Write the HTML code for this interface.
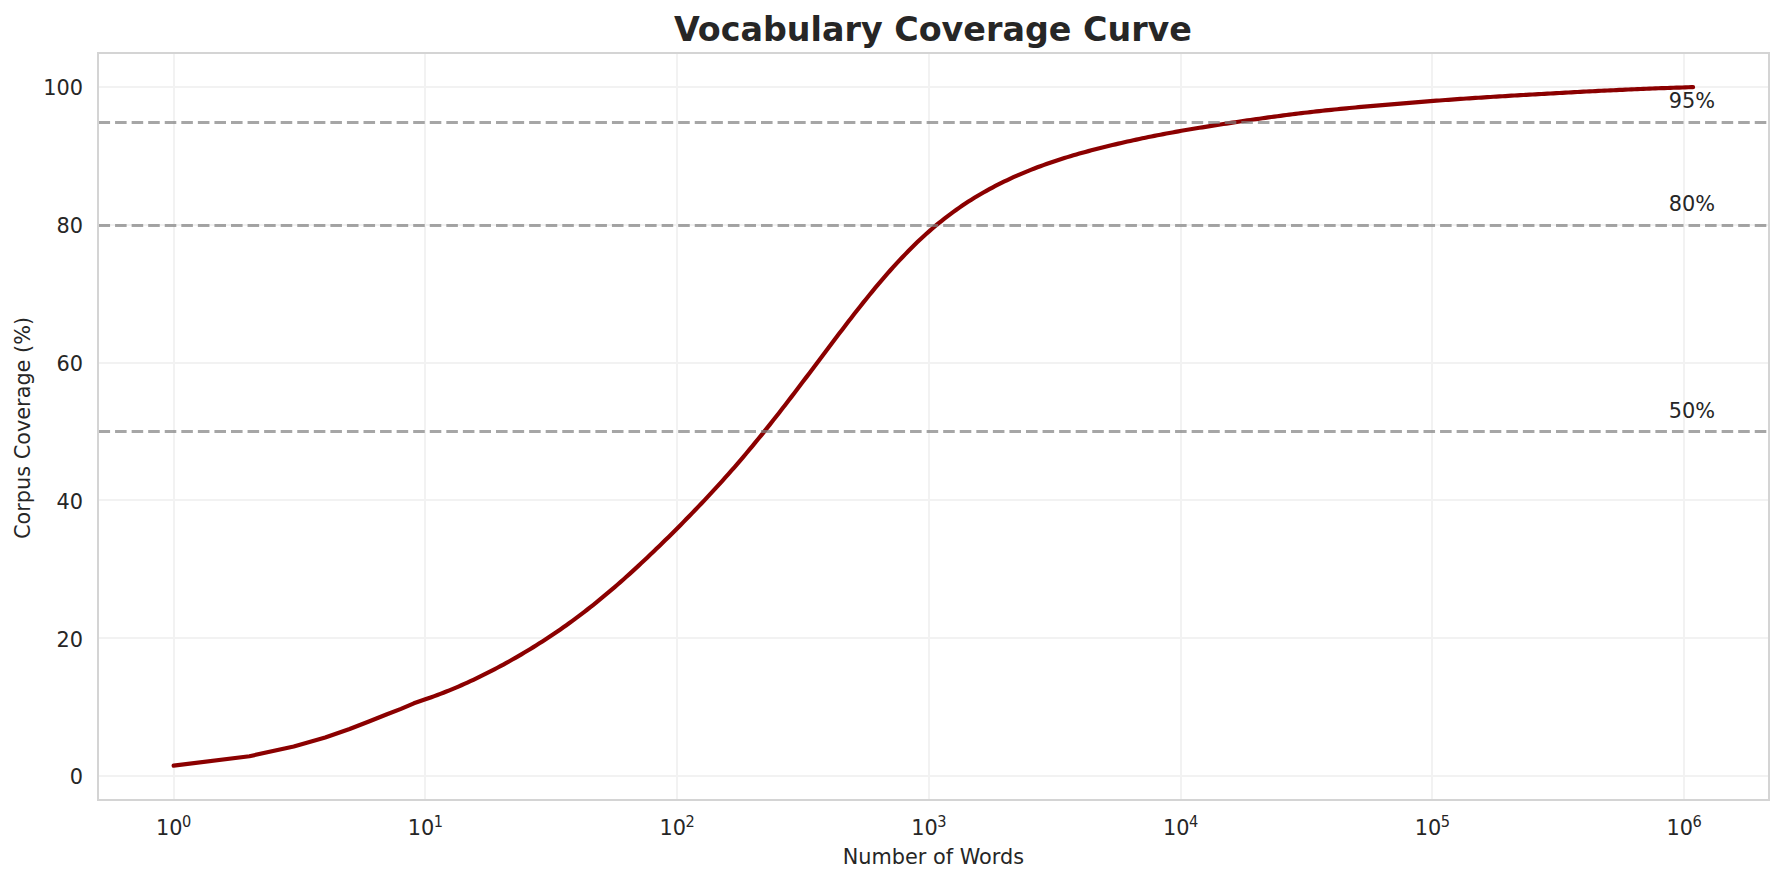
<!DOCTYPE html>
<html lang="en"><head><meta charset="utf-8"><title>Vocabulary Coverage Curve</title>
<style>html,body{margin:0;padding:0;background:#ffffff;}svg{display:block;}text{font-family:"DejaVu Sans","Liberation Sans",sans-serif;fill:#262626;}.t{font-size:20.83px;}.sup{font-size:14.58px;}.title{font-size:33.33px;font-weight:bold;}</style></head>
<body>
<!-- Vocabulary Coverage Curve: line chart, log-x axis (Number of Words) vs Corpus Coverage (%) -->
<svg width="1784" height="883" viewBox="0 0 1784 883">
<rect x="0" y="0" width="1784" height="883" fill="#ffffff"/>
<g stroke="#f2f2f2" stroke-width="2" shape-rendering="crispEdges" fill="none">
<line x1="174" y1="53" x2="174" y2="800"/>
<line x1="425" y1="53" x2="425" y2="800"/>
<line x1="677" y1="53" x2="677" y2="800"/>
<line x1="929" y1="53" x2="929" y2="800"/>
<line x1="1181" y1="53" x2="1181" y2="800"/>
<line x1="1432" y1="53" x2="1432" y2="800"/>
<line x1="1684" y1="53" x2="1684" y2="800"/>
<line x1="98" y1="776" x2="1769" y2="776"/>
<line x1="98" y1="638" x2="1769" y2="638"/>
<line x1="98" y1="500" x2="1769" y2="500"/>
<line x1="98" y1="363" x2="1769" y2="363"/>
<line x1="98" y1="225" x2="1769" y2="225"/>
<line x1="98" y1="87" x2="1769" y2="87"/>
</g>
<clipPath id="ax"><rect x="98" y="53" width="1671" height="747"/></clipPath>
<g clip-path="url(#ax)">
<polyline points="173.65,765.64 249.43,756.23 293.76,746.50 325.21,737.50 349.61,729.06 369.54,721.20 386.39,714.53 400.99,708.90 413.87,703.30 425.39,699.32 428.39,698.29 431.39,697.23 434.39,696.15 437.39,695.04 440.39,693.91 443.39,692.75 446.39,691.56 449.39,690.35 452.39,689.11 455.39,687.85 458.39,686.57 461.39,685.26 464.39,683.92 467.39,682.57 470.39,681.19 473.39,679.78 476.39,678.36 479.39,676.91 482.39,675.44 485.39,673.95 488.39,672.44 491.39,670.90 494.39,669.35 497.39,667.77 500.39,666.17 503.39,664.55 506.39,662.90 509.39,661.24 512.39,659.55 515.39,657.84 518.39,656.11 521.39,654.36 524.39,652.58 527.39,650.78 530.39,648.96 533.39,647.12 536.39,645.25 539.39,643.36 542.39,641.45 545.39,639.51 548.39,637.55 551.39,635.56 554.39,633.54 557.39,631.50 560.39,629.43 563.39,627.33 566.39,625.20 569.39,623.05 572.39,620.87 575.39,618.66 578.39,616.42 581.39,614.15 584.39,611.85 587.39,609.52 590.39,607.16 593.39,604.78 596.39,602.37 599.39,599.93 602.39,597.46 605.39,594.96 608.39,592.44 611.39,589.89 614.39,587.32 617.39,584.72 620.39,582.10 623.39,579.45 626.39,576.78 629.39,574.08 632.39,571.36 635.39,568.62 638.39,565.86 641.39,563.08 644.39,560.27 647.39,557.45 650.39,554.61 653.39,551.75 656.39,548.86 659.39,545.96 662.39,543.05 665.39,540.11 668.39,537.16 671.39,534.19 674.39,531.20 677.39,528.19 680.39,525.17 683.39,522.13 686.39,519.07 689.39,515.99 692.39,512.89 695.39,509.78 698.39,506.65 701.39,503.49 704.39,500.32 707.39,497.12 710.39,493.91 713.39,490.67 716.39,487.40 719.39,484.11 722.39,480.80 725.39,477.46 728.39,474.09 731.39,470.69 734.39,467.26 737.39,463.80 740.39,460.32 743.39,456.80 746.39,453.26 749.39,449.68 752.39,446.07 755.39,442.44 758.39,438.78 761.39,435.08 764.39,431.37 767.39,427.62 770.39,423.85 773.39,420.06 776.39,416.24 779.39,412.41 782.39,408.55 785.39,404.67 788.39,400.78 791.39,396.87 794.39,392.95 797.39,389.01 800.39,385.06 803.39,381.10 806.39,377.13 809.39,373.16 812.39,369.17 815.39,365.18 818.39,361.19 821.39,357.20 824.39,353.21 827.39,349.22 830.39,345.23 833.39,341.25 836.39,337.29 839.39,333.33 842.39,329.39 845.39,325.47 848.39,321.56 851.39,317.68 854.39,313.82 857.39,309.99 860.39,306.19 863.39,302.42 866.39,298.68 869.39,294.98 872.39,291.32 875.39,287.70 878.39,284.11 881.39,280.58 884.39,277.09 887.39,273.64 890.39,270.25 893.39,266.91 896.39,263.62 899.39,260.38 902.39,257.20 905.39,254.07 908.39,251.00 911.39,247.98 914.39,245.02 917.39,242.12 920.39,239.28 923.39,236.50 926.39,233.78 929.39,231.11 932.39,228.51 935.39,225.96 938.39,223.47 941.39,221.04 944.39,218.66 947.39,216.34 950.39,214.08 953.39,211.87 956.39,209.71 959.39,207.60 962.39,205.55 965.39,203.55 968.39,201.59 971.39,199.68 974.39,197.82 977.39,196.00 980.39,194.23 983.39,192.50 986.39,190.81 989.39,189.15 992.39,187.54 995.39,185.96 998.39,184.42 1001.39,182.92 1004.39,181.45 1007.39,180.01 1010.39,178.61 1013.39,177.23 1016.39,175.89 1019.39,174.58 1022.39,173.30 1025.39,172.05 1028.39,170.82 1031.39,169.62 1034.39,168.45 1037.39,167.30 1040.39,166.18 1043.39,165.09 1046.39,164.01 1049.39,162.97 1052.39,161.94 1055.39,160.93 1058.39,159.95 1061.39,158.99 1064.39,158.04 1067.39,157.12 1070.39,156.21 1073.39,155.32 1076.39,154.45 1079.39,153.60 1082.39,152.76 1085.39,151.93 1088.39,151.12 1091.39,150.32 1094.39,149.53 1097.39,148.76 1100.39,148.00 1103.39,147.25 1106.39,146.51 1109.39,145.78 1112.39,145.06 1115.39,144.35 1118.39,143.64 1121.39,142.95 1124.39,142.27 1127.39,141.59 1130.39,140.92 1133.39,140.26 1136.39,139.60 1139.39,138.96 1142.39,138.32 1145.39,137.70 1148.39,137.08 1151.39,136.46 1154.39,135.86 1157.39,135.27 1160.39,134.68 1163.39,134.11 1166.39,133.54 1169.39,132.98 1172.39,132.43 1175.39,131.89 1178.39,131.35 1181.39,130.82 1184.39,130.31 1187.39,129.79 1190.39,129.29 1193.39,128.79 1196.39,128.30 1199.39,127.81 1202.39,127.32 1205.39,126.84 1208.39,126.36 1211.39,125.89 1214.39,125.42 1217.39,124.95 1220.39,124.49 1223.39,124.03 1226.39,123.57 1229.39,123.11 1232.39,122.66 1235.39,122.20 1238.39,121.75 1241.39,121.31 1244.39,120.86 1247.39,120.42 1250.39,119.99 1253.39,119.55 1256.39,119.12 1259.39,118.69 1262.39,118.27 1265.39,117.85 1268.39,117.43 1271.39,117.02 1274.39,116.61 1277.39,116.21 1280.39,115.81 1283.39,115.42 1286.39,115.03 1289.39,114.65 1292.39,114.27 1295.39,113.89 1298.39,113.52 1301.39,113.16 1304.39,112.80 1307.39,112.45 1310.39,112.10 1313.39,111.76 1316.39,111.42 1319.39,111.09 1322.39,110.76 1325.39,110.44 1328.39,110.13 1331.39,109.81 1334.39,109.51 1337.39,109.20 1340.39,108.90 1343.39,108.61 1346.39,108.32 1349.39,108.03 1352.39,107.75 1355.39,107.47 1358.39,107.20 1361.39,106.92 1364.39,106.65 1367.39,106.39 1370.39,106.12 1373.39,105.86 1376.39,105.60 1379.39,105.34 1382.39,105.08 1385.39,104.83 1388.39,104.57 1391.39,104.32 1394.39,104.07 1397.39,103.82 1400.39,103.57 1403.39,103.32 1406.39,103.07 1409.39,102.83 1412.39,102.58 1415.39,102.34 1418.39,102.10 1421.39,101.86 1424.39,101.62 1427.39,101.39 1430.39,101.15 1433.39,100.92 1436.39,100.69 1439.39,100.46 1442.39,100.24 1445.39,100.02 1448.39,99.80 1451.39,99.58 1454.39,99.37 1457.39,99.16 1460.39,98.95 1463.39,98.74 1466.39,98.54 1469.39,98.34 1472.39,98.14 1475.39,97.94 1478.39,97.74 1481.39,97.55 1484.39,97.36 1487.39,97.17 1490.39,96.98 1493.39,96.79 1496.39,96.61 1499.39,96.42 1502.39,96.24 1505.39,96.06 1508.39,95.88 1511.39,95.70 1514.39,95.52 1517.39,95.34 1520.39,95.17 1523.39,94.99 1526.39,94.82 1529.39,94.65 1532.39,94.47 1535.39,94.30 1538.39,94.13 1541.39,93.96 1544.39,93.80 1547.39,93.63 1550.39,93.46 1553.39,93.30 1556.39,93.13 1559.39,92.97 1562.39,92.81 1565.39,92.64 1568.39,92.48 1571.39,92.33 1574.39,92.17 1577.39,92.01 1580.39,91.85 1583.39,91.70 1586.39,91.54 1589.39,91.39 1592.39,91.24 1595.39,91.09 1598.39,90.94 1601.39,90.79 1604.39,90.65 1607.39,90.50 1610.39,90.36 1613.39,90.22 1616.39,90.08 1619.39,89.94 1622.39,89.80 1625.39,89.66 1628.39,89.53 1631.39,89.40 1634.39,89.27 1637.39,89.14 1640.39,89.01 1643.39,88.89 1646.39,88.76 1649.39,88.64 1652.39,88.52 1655.39,88.41 1658.39,88.29 1661.39,88.18 1664.39,88.07 1667.39,87.96 1670.39,87.86 1673.39,87.76 1676.39,87.66 1679.39,87.56 1682.39,87.46 1685.39,87.37 1688.39,87.28 1691.39,87.19 1693.06,87.14" fill="none" stroke="#8b0000" stroke-width="4.167" stroke-linecap="round" stroke-linejoin="round"/>
<line x1="98.5" y1="431.5" x2="1769.19" y2="431.5" stroke="#808080" stroke-opacity="0.7" stroke-width="3.125" stroke-dasharray="11.5625 5"/>
<line x1="98.5" y1="225.5" x2="1769.19" y2="225.5" stroke="#808080" stroke-opacity="0.7" stroke-width="3.125" stroke-dasharray="11.5625 5"/>
<line x1="98.5" y1="122.5" x2="1769.19" y2="122.5" stroke="#808080" stroke-opacity="0.7" stroke-width="3.125" stroke-dasharray="11.5625 5"/>
</g>
<g stroke="#d4d4d4" stroke-width="2" shape-rendering="crispEdges" fill="none">
<line x1="98" y1="52" x2="98" y2="801"/><line x1="1769" y1="52" x2="1769" y2="801"/>
<line x1="97" y1="53" x2="1770" y2="53"/><line x1="97" y1="800" x2="1770" y2="800"/>
</g>
<text class="title" x="932.9" y="40.7" text-anchor="middle">Vocabulary Coverage Curve</text>
<text class="t" x="933.43" y="864.0" text-anchor="middle">Number of Words</text>
<text class="t" transform="translate(30.0,428.0) rotate(-90)" text-anchor="middle">Corpus Coverage (%)</text>
<text class="t" x="82.9" y="784.00" text-anchor="end">0</text>
<text class="t" x="82.9" y="647.00" text-anchor="end">20</text>
<text class="t" x="82.9" y="509.00" text-anchor="end">40</text>
<text class="t" x="82.9" y="371.00" text-anchor="end">60</text>
<text class="t" x="82.9" y="233.00" text-anchor="end">80</text>
<text class="t" x="82.9" y="95.00" text-anchor="end">100</text>
<text class="t" x="1668.7" y="417.81">50%</text>
<text class="t" x="1668.7" y="211.14">80%</text>
<text class="t" x="1668.7" y="107.81">95%</text>
<text class="t" x="156.05" y="835.0">10</text><text class="sup" transform="translate(181.95,827.3) scale(1.0,1.13)">0</text>
<text class="t" x="407.79" y="835.0">10</text><text class="sup" transform="translate(433.69,827.3) scale(1.0,1.13)">1</text>
<text class="t" x="659.53" y="835.0">10</text><text class="sup" transform="translate(685.43,827.3) scale(1.0,1.13)">2</text>
<text class="t" x="911.27" y="835.0">10</text><text class="sup" transform="translate(937.17,827.3) scale(1.0,1.13)">3</text>
<text class="t" x="1163.02" y="835.0">10</text><text class="sup" transform="translate(1188.92,827.3) scale(1.0,1.13)">4</text>
<text class="t" x="1414.76" y="835.0">10</text><text class="sup" transform="translate(1440.66,827.3) scale(1.0,1.13)">5</text>
<text class="t" x="1666.51" y="835.0">10</text><text class="sup" transform="translate(1692.41,827.3) scale(1.0,1.13)">6</text>
</svg>
</body></html>
